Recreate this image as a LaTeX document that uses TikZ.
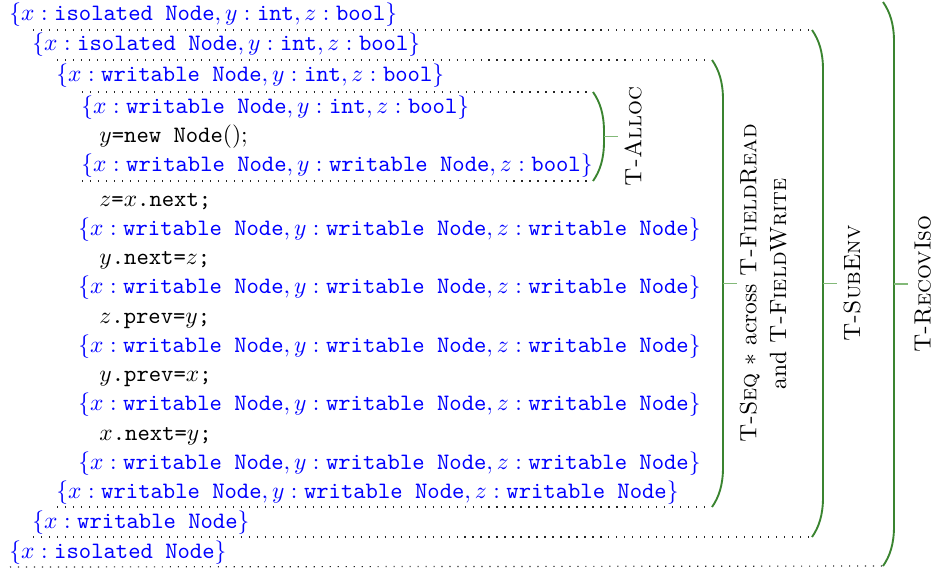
\documentclass[tikz,border=0pt]{standalone}
\usepackage{amsmath}
\usetikzlibrary{calc}

\definecolor{braceGreen}{RGB}{58,132,48}
\definecolor{tickGreen}{RGB}{130,185,120}

% type annotations
\newcommand{\tyW}{\texttt{writable Node}}
\newcommand{\tyI}{\texttt{isolated Node}}
\newcommand{\tyInt}{\texttt{int}}
\newcommand{\tyBool}{\texttt{bool}}

% a rounded side bracket: name, x of its ends, top y, bottom y
\newcommand{\sidebrace}[4]{%
  \coordinate (#1-top) at (#2,#3);
  \coordinate (#1-bot) at (#2,#4);
  \coordinate (#1-mid) at ({#2+11},{(#3+#4)/2});
  \draw[bracket] (#1-top) .. controls +(7,10) and +(0,-18) .. ({#2+11},{#3+40})
    -- ({#2+11},{#4-40}) .. controls +(0,18) and +(7,-10) .. (#1-bot);
}

\begin{document}
\begin{tikzpicture}[
  x=0.4255pt, y=-0.4255pt,
  asrt/.style={text=blue, anchor=base west, inner sep=0pt},
  code/.style={anchor=base west, inner sep=0pt},
  sep/.style={line width=0.5pt, dash pattern=on 0.5pt off 2.9pt, black!85},
  bracket/.style={draw=braceGreen, line width=0.8pt},
  tick/.style={draw=tickGreen, line width=0.6pt},
  lab/.style={rotate=90, anchor=north, align=center, inner sep=2.6pt}
]
\useasboundingbox (0,0) rectangle (935,571);

% assertions and statements
\node[asrt] (r1)  at (9,20)   {$\{x : \tyI, y : \tyInt, z : \tyBool\}$};
\node[asrt] (r2)  at (32,50)  {$\{x : \tyI, y : \tyInt, z : \tyBool\}$};
\node[asrt] (r3)  at (56,81)  {$\{x : \tyW, y : \tyInt, z : \tyBool\}$};
\node[asrt] (r4)  at (81,113) {$\{x : \tyW, y : \tyInt, z : \tyBool\}$};
\node[code] (c1)  at (99,142) {$y$\texttt{=new Node}();};
\node[asrt] (r6)  at (81,171) {$\{x : \tyW, y : \tyW, z : \tyBool\}$};
\node[code] (c2)  at (99,206) {$z$\texttt{=}$x$\texttt{.next;}};
\node[asrt] (r8)  at (78,235) {$\{x : \tyW, y : \tyW, z : \tyW\}$};
\node[code] (c3)  at (99,264) {$y$\texttt{.next=}$z$\texttt{;}};
\node[asrt] (r10) at (78,293) {$\{x : \tyW, y : \tyW, z : \tyW\}$};
\node[code] (c4)  at (99,323) {$z$\texttt{.prev=}$y$\texttt{;}};
\node[asrt] (r12) at (78,352) {$\{x : \tyW, y : \tyW, z : \tyW\}$};
\node[code] (c5)  at (99,381) {$y$\texttt{.prev=}$x$\texttt{;}};
\node[asrt] (r14) at (78,410) {$\{x : \tyW, y : \tyW, z : \tyW\}$};
\node[code] (c6)  at (99,440) {$x$\texttt{.next=}$y$\texttt{;}};
\node[asrt] (r16) at (78,469) {$\{x : \tyW, y : \tyW, z : \tyW\}$};
\node[asrt] (r17) at (56,498) {$\{x : \tyW, y : \tyW, z : \tyW\}$};
\node[asrt] (r18) at (32,528) {$\{x : \tyW\}$};
\node[asrt] (r19) at (9,558)  {$\{x : \tyI\}$};

% brackets
\sidebrace{alloc}{593}{92}{181}
\sidebrace{seq}{712}{60}{507}
\sidebrace{sub}{812}{30}{537}
\sidebrace{recov}{883}{2}{566}

% dotted separators
\coordinate (s2t) at (33,30);
\coordinate (s3t) at (57,60);
\coordinate (s4t) at (82,92);
\coordinate (s4b) at (82,181);
\coordinate (s3b) at (57,507);
\coordinate (s2b) at (33,537);
\coordinate (s1b) at (10,567);
\draw[sep] (s2t) -- (sub-top);
\draw[sep] (s3t) -- (seq-top);
\draw[sep] (s4t) -- (alloc-top);
\draw[sep] (s4b) -- (alloc-bot);
\draw[sep] (s3b) -- (seq-bot);
\draw[sep] (s2b) -- (sub-bot);
\draw[sep] (s1b) -- (recov-bot);

% rule labels
\path (alloc-mid) ++(14,0) node[lab] (allocLab) {\textsc{T-Alloc}};
\path (seq-mid)   ++(14,0) node[lab, inner sep=1pt] (seqLab)
  {\textsc{T-Seq} $*$ across \textsc{T-FieldRead}\\[0.6pt] and \textsc{T-FieldWrite}};
\path (sub-mid)   ++(14,0) node[lab] (subLab)   {\textsc{T-SubEnv}};
\path (recov-mid) ++(14,0) node[lab] (recovLab) {\textsc{T-RecovIso}};
\draw[tick] (alloc-mid) -- (allocLab.north);
\draw[tick] (seq-mid)   -- (seqLab.north);
\draw[tick] (sub-mid)   -- (subLab.north);
\draw[tick] (recov-mid) -- (recovLab.north);
\end{tikzpicture}
\end{document}
